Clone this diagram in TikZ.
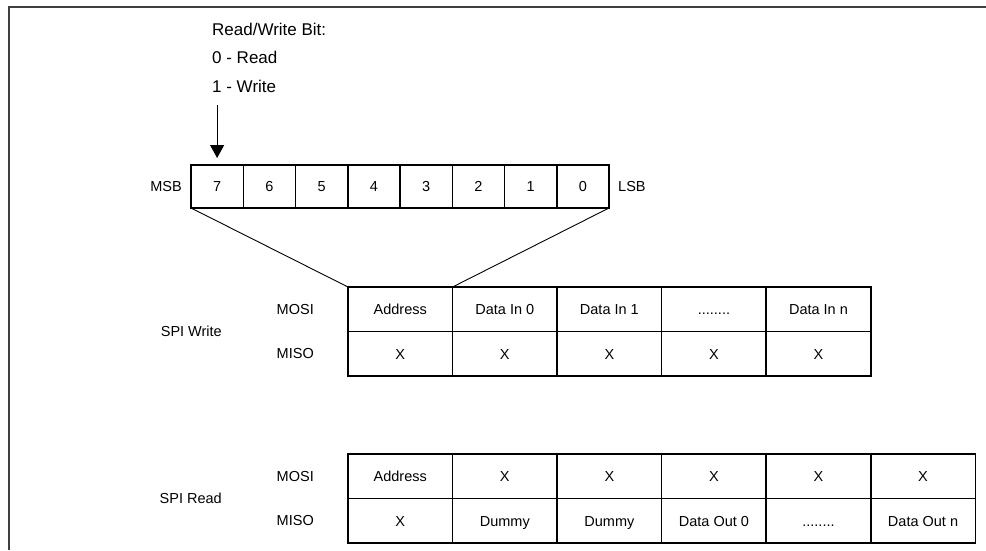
\documentclass[tikz,border=0pt]{standalone}
\usepackage{fontspec}
\setmainfont{Liberation Sans}
\usetikzlibrary{positioning,arrows.meta}

\newcommand{\skipdots}{........}

\begin{document}
\begin{tikzpicture}[x=1pt,y=-1pt]
\tikzset{bit/.style={draw,line width=1.5pt,minimum width=52.25pt,minimum height=43pt,inner sep=0pt,outer sep=0pt,text height=10.5pt,text depth=0pt,font=\fontsize{14.5}{16}\selectfont},
         cell/.style={draw,line width=1.5pt,minimum width=104.55pt,minimum height=44.5pt,inner sep=0pt,outer sep=0pt,text height=10.5pt,text depth=0pt,font=\fontsize{14.5}{16}\selectfont},
         lbl/.style={inner sep=0pt,font=\fontsize{14.5}{16}\selectfont},
         note/.style={inner sep=0pt,anchor=west,font=\fontsize{17}{20}\selectfont}}
\useasboundingbox (0,0) rectangle (986,550);
\draw[line width=2pt,black!75] (9,550) -- (9,7) -- (986,7);

% read/write bit
\node[note] (rw)    at (212,29) {Read/Write Bit:};
\node[note] (rd)    at (212,57) {0 - Read};
\node[note] (wr)    at (212,86) {1 - Write};

% address byte
\node[bit,anchor=north west] (b7) at (191,165) {7};
\foreach \i [remember=\i as \j (initially 7)] in {6,5,...,0}
  \node[bit,right=0pt of b\j] (b\i) {\i};
\node[lbl,left=9pt of b7] {MSB};
\node[lbl,right=9pt of b0] {LSB};
\draw[line width=1.1pt,-{Triangle[width=14pt,length=13pt]},shorten >=7pt] ([yshift=60pt]b7.north) -- (b7.north);

% spi write
\node[cell,anchor=north west] (wmosi1) at (348,287) {Address};
\node[cell,below=0pt of wmosi1] (wmiso1) {X};
\foreach \t [count=\i from 2, remember=\i as \j (initially 1)] in {Data In 0,Data In 1,\skipdots,Data In n} {
  \node[cell,right=0pt of wmosi\j] (wmosi\i) {\t};
  \node[cell,below=0pt of wmosi\i] (wmiso\i) {X};
}
\node[lbl,left=34pt of wmosi1] (wmo) {MOSI};
\node[lbl,left=34pt of wmiso1] (wmi) {MISO};
\node[lbl,anchor=east] at ([xshift=-126pt]wmosi1.south west) {SPI Write};
\draw[line width=0.9pt] (b7.south west) -- (wmosi1.north west);
\draw[line width=0.9pt] (b0.south east) -- (wmosi2.north west);

% spi read
\node[cell,anchor=north west] (rmosi1) at (348,454) {Address};
\node[cell,below=0pt of rmosi1] (rmiso1) {X};
\foreach \t [count=\i from 2, remember=\i as \j (initially 1)] in {Dummy,Dummy,Data Out 0,\skipdots,Data Out n} {
  \node[cell,right=0pt of rmosi\j] (rmosi\i) {X};
  \node[cell,below=0pt of rmosi\i] (rmiso\i) {\t};
}
\node[lbl,left=34pt of rmosi1] (rmo) {MOSI};
\node[lbl,left=34pt of rmiso1] (rmi) {MISO};
\node[lbl,anchor=east] at ([xshift=-126pt]rmosi1.south west) {SPI Read};
\end{tikzpicture}
\end{document}
